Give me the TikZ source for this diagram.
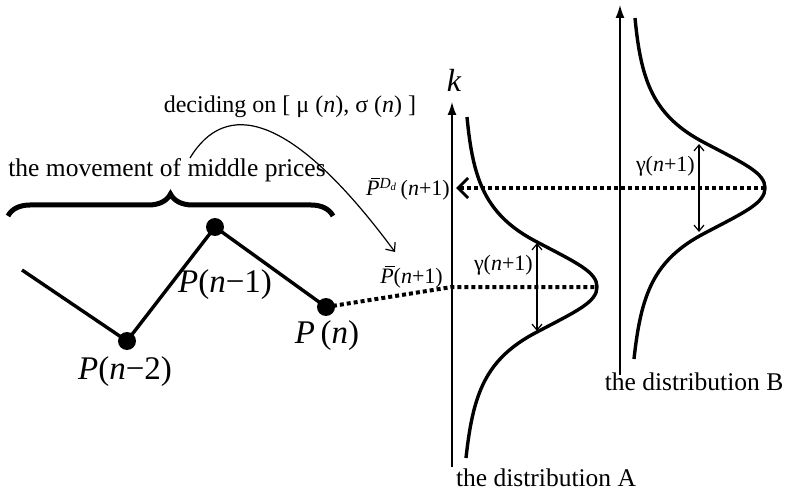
\documentclass[tikz,border=0pt]{standalone}
\usepackage{fontspec}
\setmainfont{Liberation Serif}
\usetikzlibrary{arrows.meta,decorations.pathreplacing}
\newcommand{\PB}{\textit{\rlap{\hspace{0.2em}\rule[0.76em]{0.45em}{0.05em}}P}}
\tikzset{
  ptdot/.style={circle,fill=black,inner sep=0pt,minimum size=18pt},
  zig/.style={line width=3.4pt},
  curv/.style={line width=3.4pt},
  axis/.style={line width=1.4pt,-{Latex[length=13pt,width=9pt]}},
  dots/.style={line width=4pt,dash pattern=on 4pt off 3pt},
  gam/.style={line width=1.2pt,{Straight Barb[length=6pt,width=10pt]}-{Straight Barb[length=6pt,width=10pt]}},
  lbl/.style={inner sep=0pt,font=\fontsize{33}{33}\selectfont},
  txt/.style={inner sep=0pt,font=\fontsize{25.5}{25.5}\selectfont},
  sml/.style={inner sep=0pt,font=\fontsize{22}{22}\selectfont},
}
\begin{document}
\begin{tikzpicture}[x=1pt,y=-1pt]
\useasboundingbox (0,0) rectangle (785,492);
% axes
\coordinate (a0) at (452,467); \coordinate (a1) at (452,102);
\coordinate (b0) at (620,375); \coordinate (b1) at (620,5);
\draw[axis] (a0) -- (a1);
\draw[axis] (b0) -- (b1);
\node[inner sep=0pt,font=\fontsize{32}{32}\selectfont\itshape] (k) at (454,80) {k};
% distribution curves
\draw[curv] (467,117) .. controls (473,180) and (485,215) .. (537,242)
  .. controls (577,263) and (597,272) .. (597,287)
  .. controls (597,302) and (577,311) .. (537,332)
  .. controls (485,359) and (473,394) .. (466,458);
\begin{scope}[shift={(168,-99)}]
\draw[curv] (467,117) .. controls (473,180) and (485,215) .. (537,242)
  .. controls (577,263) and (597,272) .. (597,287)
  .. controls (597,302) and (577,311) .. (537,332)
  .. controls (485,359) and (473,394) .. (466,458);
\end{scope}
% gamma arrows
\coordinate (ga0) at (537,243); \coordinate (ga1) at (537,331);
\coordinate (gb0) at (699,144); \coordinate (gb1) at (699,232);
\draw[gam] (ga0) -- (ga1);
\draw[gam] (gb0) -- (gb1);
\node[sml,anchor=east] (gla) at (533,265) {γ(\textit{n}+1)};
\node[sml,anchor=east] (glb) at (695,166) {γ(\textit{n}+1)};
% zigzag
\coordinate (s) at (22,270);
\node[ptdot] (p2) at (127,341) {};
\node[ptdot] (p1) at (215,227) {};
\node[ptdot] (pn) at (326,307) {};
\draw[zig] (s) -- (p2.center) -- (p1.center) -- (pn.center);
\node[lbl] (lp2) at (125,372) {\textit{P}(\textit{n}−2)};
\node[lbl] (lp1) at (225,285) {\textit{P}(\textit{n}−1)};
\node[lbl] (lpn) at (327,336) {\textit{P}\,(\textit{n})};
% dotted lines
\coordinate (ax) at (452,287);
\coordinate (pk) at (597,287);
\draw[dots] (pn.center) -- (ax) -- (pk);
\coordinate (pkb) at (765,188);
\coordinate (tip) at (456,188);
\draw[dots,-{Straight Barb[length=10pt,width=20pt,line width=3pt]}] (pkb) -- (tip);
\node[sml,anchor=east] (lpb) at (443,277) {\PB(\textit{n}+1)};
\node[sml,anchor=east] (lpd) at (450,189) {\PB\textsuperscript{\textit{D}\textsubscript{\textit{d}}}\,(\textit{n}+1)};
% brace and texts
\coordinate (br0) at (8,216); \coordinate (br1) at (333,216);
\draw[line width=5pt,decorate,decoration={brace,amplitude=22pt}] (br0) -- (br1);
\node[txt] (mv) at (167,170) {the movement of middle prices};
\node[txt,font=\fontsize{24}{24}\selectfont] (dc) at (290,107) {deciding on [ μ (\textit{n}), σ (\textit{n}) ]};
\coordinate (c0) at (190,158);
\coordinate (c1) at (395,252);
\draw[line width=1.2pt,-{Straight Barb[length=7pt,width=12pt]}] (c0) .. controls (225,100) and (290,110) .. (c1);
\node[txt] (da) at (546,478) {the distribution A};
\node[txt] (db) at (694,382) {the distribution B};
\end{tikzpicture}
\end{document}
